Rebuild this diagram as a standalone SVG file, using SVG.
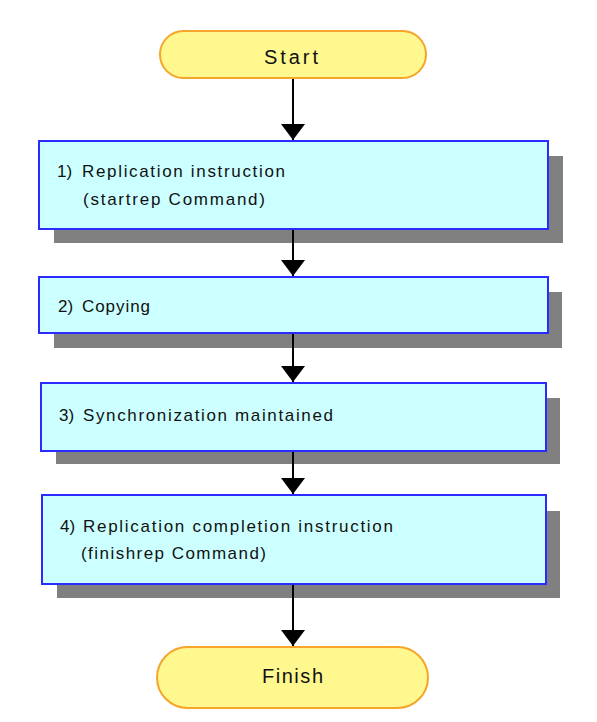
<svg xmlns="http://www.w3.org/2000/svg" width="597" height="722" viewBox="0 0 597 722">
<style>
.bg{fill:#ffffff}
.pill{fill:#fff88f;stroke:#f5a52a;stroke-width:2}
.box{fill:#ccffff;stroke:#2b2bff;stroke-width:2}
.shadow{fill:#808080}
.t{font-family:"Liberation Sans",Arial,sans-serif;font-size:17px;fill:#111111}
.tp{font-family:"Liberation Sans",Arial,sans-serif;font-size:20px;fill:#111111}
.conn{stroke:#000000;stroke-width:2;fill:none}
</style>
<defs>
<marker id="ah" markerUnits="userSpaceOnUse" markerWidth="18" markerHeight="26" refX="16" refY="12" orient="auto">
<path d="M0,0 L16,12 L0,24 Z" fill="#000000"/>
</marker>
</defs>
<rect class="bg" x="0" y="0" width="597" height="722"/>
<g id="start">
<rect class="pill" x="160" y="31" width="266" height="47" rx="23.5" ry="23.5"/>
<text class="tp" x="264" y="64" textLength="54" lengthAdjust="spacing">Start</text>
</g>
<g id="step1">
<rect class="shadow" x="54" y="156" width="509" height="87"/>
<rect class="box" x="39" y="141" width="509" height="88"/>
<text class="t" x="57" y="177">1)</text>
<text class="t" x="82" y="177" textLength="203" lengthAdjust="spacing">Replication instruction</text>
<text class="t" x="83" y="205" textLength="182" lengthAdjust="spacing">(startrep Command)</text>
</g>
<g id="step2">
<rect class="shadow" x="54" y="292" width="508" height="56"/>
<rect class="box" x="39" y="277" width="509" height="56"/>
<text class="t" x="58" y="312">2)</text>
<text class="t" x="82" y="312" textLength="68" lengthAdjust="spacing">Copying</text>
</g>
<g id="step3">
<rect class="shadow" x="56" y="398" width="504" height="66"/>
<rect class="box" x="41" y="383" width="505" height="68"/>
<text class="t" x="59" y="421">3)</text>
<text class="t" x="83" y="421" textLength="250" lengthAdjust="spacing">Synchronization maintained</text>
</g>
<g id="step4">
<rect class="shadow" x="57" y="511" width="503" height="87"/>
<rect class="box" x="42" y="495" width="504" height="89"/>
<text class="t" x="60" y="532">4)</text>
<text class="t" x="83" y="532" textLength="310" lengthAdjust="spacing">Replication completion instruction</text>
<text class="t" x="81" y="559" textLength="185" lengthAdjust="spacing">(finishrep Command)</text>
</g>
<g id="finish">
<rect class="pill" x="157" y="647" width="271" height="61" rx="30.5" ry="30.5"/>
<text class="tp" x="262" y="683" textLength="61" lengthAdjust="spacing">Finish</text>
</g>
<g id="connectors">
<line class="conn" x1="293" y1="79" x2="293" y2="140" marker-end="url(#ah)"/>
<line class="conn" x1="293" y1="230" x2="293" y2="276" marker-end="url(#ah)"/>
<line class="conn" x1="293" y1="334" x2="293" y2="382" marker-end="url(#ah)"/>
<line class="conn" x1="293" y1="452" x2="293" y2="494" marker-end="url(#ah)"/>
<line class="conn" x1="293" y1="585" x2="293" y2="646" marker-end="url(#ah)"/>
</g>
</svg>
